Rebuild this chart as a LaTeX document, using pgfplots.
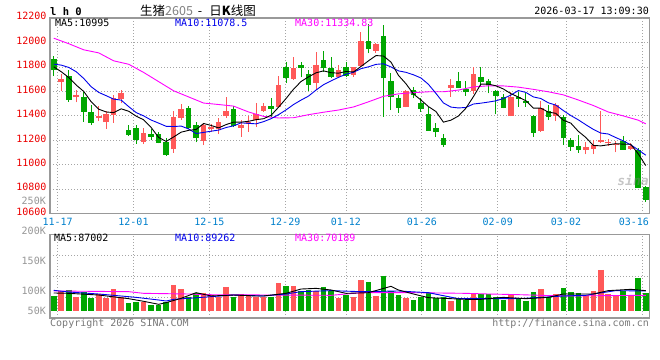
\documentclass[border=0pt]{standalone}
\usepackage{pgfplots}
\pgfplotsset{compat=1.18}
\usepackage{pgfplotstable}
\usepackage{fontspec}
\setmainfont{DejaVu Sans Mono}
\newfontfamily\cjk{Noto Sans CJK SC}
\newcommand\tf{\fontsize{10bp}{12bp}\selectfont}
\definecolor{upred}{RGB}{255,88,88}
\definecolor{dngreen}{RGB}{0,166,0}
\definecolor{ylabred}{RGB}{235,0,0}
\definecolor{xlabblue}{RGB}{0,128,204}
\definecolor{maten}{RGB}{0,0,235}
\definecolor{mathirty}{RGB}{255,0,255}
\definecolor{framegray}{RGB}{153,153,153}
\definecolor{gridgray}{RGB}{165,165,165}
\definecolor{volgray}{RGB}{150,150,150}
\definecolor{copygray}{RGB}{120,120,120}

% k open high low close volume(K)
\pgfplotstableread{
k o h l c v
1 11674 11739 11603 11701 100.0
3 11551 11608 11510 11567 90.0
6 11382 11478 11358 11401 95.0
7 11347 11442 11295 11415 88.9
8 11407 11570 11342 11543 103.3
9 11540 11611 11502 11586 90.6
12 11189 11303 11170 11263 82.2
16 11127 11440 11099 11388 110.0
17 11385 11497 11366 11456 103.3
20 11195 11339 11162 11325 97.2
21 11293 11334 11271 11312 93.9
22 11293 11380 11252 11352 90.6
23 11399 11551 11385 11440 106.7
25 11304 11366 11230 11325 95.0
26 11336 11399 11271 11347 93.3
27 11366 11508 11312 11415 90.6
28 11440 11502 11434 11480 90.6
30 11472 11725 11472 11652 113.3
32 11701 11878 11693 11793 108.3
35 11671 11924 11611 11815 100.0
38 11717 11815 11706 11771 88.9
40 11733 11801 11720 11796 90.0
41 11810 12082 11801 12011 118.3
43 11932 11992 11918 11986 91.7
47 11475 11610 11470 11603 88.3
53 11630 11701 11557 11652 83.3
56 11606 11796 11578 11742 96.1
61 11399 11592 11399 11551 95.0
65 11276 11521 11271 11461 103.3
67 11401 11502 11358 11488 95.0
71 11124 11184 11086 11143 93.3
72 11132 11203 11086 11162 100.0
73 11189 11440 11181 11200 135.0
74 11176 11211 11157 11189 95.0
75 11162 11195 11102 11170 93.3
77 11132 11176 11124 11157 93.3
}\upT

\pgfplotstableread{
k o h l c v
0 11869 11891 11725 11771 91.7
2 11722 11774 11516 11529 101.7
4 11554 11597 11352 11434 98.9
5 11429 11488 11325 11344 88.3
10 11284 11325 11238 11244 80.0
11 11298 11325 11173 11203 81.7
13 11252 11290 11203 11230 76.1
14 11252 11271 11176 11181 76.1
15 11186 11216 11072 11080 82.2
18 11464 11483 11293 11303 90.6
19 11325 11347 11184 11216 96.1
24 11456 11480 11306 11317 90.6
29 11480 11543 11393 11459 90.6
31 11801 11837 11671 11706 108.3
33 11815 11842 11714 11793 100.0
34 11739 11774 11603 11652 101.7
36 11856 11932 11761 11788 106.7
37 11788 11878 11706 11717 100.6
39 11796 11842 11714 11725 92.8
42 12011 12150 11910 11946 115.0
44 12052 12141 11393 11706 125.5
45 11684 11747 11448 11551 100.0
46 11548 11570 11426 11467 93.3
48 11611 11638 11543 11570 85.0
49 11508 11543 11434 11459 90.6
50 11415 11475 11279 11279 97.2
51 11301 11339 11230 11271 88.9
52 11222 11252 11148 11165 90.6
54 11684 11761 11630 11630 88.3
55 11616 11684 11565 11597 85.0
57 11720 11796 11646 11679 95.0
58 11687 11701 11584 11652 95.0
59 11603 11611 11412 11562 89.4
60 11551 11578 11461 11467 85.0
62 11557 11592 11475 11537 87.8
63 11524 11584 11475 11502 83.9
64 11399 11407 11230 11263 98.3
66 11440 11488 11366 11393 90.6
68 11393 11407 11162 11216 105.0
69 11203 11222 11116 11148 98.3
70 11154 11244 11097 11124 97.2
76 11197 11238 11124 11124 100.0
78 11124 11135 10808 10808 121.7
79 10816 10830 10699 10713 96.7
}\dnT

\pgfplotstableread{
k m5 m10
0 11801 11823
1 11761 11815
2 11714 11796
3 11652 11761
4 11600 11706
5 11515 11638
6 11455 11592
7 11432 11565
8 11427 11537
9 11458 11529
10 11438 11476
11 11398 11427
12 11368 11400
13 11305 11366
14 11224 11341
15 11191 11315
16 11228 11313
17 11267 11317
18 11282 11293
19 11289 11256
20 11338 11265
21 11322 11275
22 11302 11284
23 11329 11305
24 11349 11319
25 11349 11343
26 11356 11339
27 11369 11335
28 11377 11353
29 11405 11377
30 11471 11410
31 11542 11449
32 11618 11493
33 11681 11529
34 11719 11562
35 11752 11611
36 11768 11655
37 11753 11686
38 11749 11715
39 11763 11741
40 11759 11756
41 11804 11786
42 11850 11801
43 11893 11821
44 11889 11826
45 11840 11800
46 11731 11768
47 11663 11756
48 11579 11736
49 11530 11710
50 11476 11658
51 11436 11584
52 11349 11506
53 11365 11472
54 11399 11465
55 11463 11469
56 11557 11497
57 11660 11504
58 11660 11513
59 11646 11523
60 11620 11542
61 11582 11570
62 11554 11607
63 11524 11592
64 11464 11555
65 11463 11542
66 11431 11507
67 11421 11488
68 11364 11444
69 11341 11403
70 11274 11368
71 11224 11328
72 11159 11290
73 11155 11260
74 11164 11252
75 11173 11223
76 11169 11196
77 11168 11163
78 11090 11123
79 10994 11079
}\maT

\pgfplotstableread{
k m
0 12035
2 11990
4 11940
6 11915
8 11850
10 11822
12 11755
14 11680
16 11605
18 11555
20 11505
22 11493
24 11480
26 11432
28 11396
30 11383
32 11385
34 11410
36 11430
38 11448
40 11473
42 11515
44 11560
46 11580
48 11590
50 11597
52 11597
54 11611
56 11637
58 11646
60 11645
62 11635
64 11617
66 11597
68 11572
70 11530
72 11485
74 11432
76 11400
78 11365
79 11335
}\mathirtyT

\pgfplotstableread{
k m
0 96.7
2 96.1
6 93.3
10 87.2
12 82.8
14 77.8
15 80.6
17 87.8
19 97.2
21 91.7
24 93.3
27 91.7
28 91.7
31 96.1
33 103.3
35 104.4
37 101.7
39 96.1
42 97.2
45 107.8
46 101.7
48 95.0
50 88.9
55 86.1
57 86.1
60 89.4
63 87.2
66 89.4
68 95.0
71 95.0
72 95.0
74 100.6
77 102.8
79 100.6
}\vfiveT

\pgfplotstableread{
k m
0 101.1
2 98.3
6 95.0
11 89.4
14 85.0
15 83.3
16 86.1
18 87.8
21 90.6
24 93.3
28 91.7
31 95.0
33 98.9
37 100.6
41 98.9
46 100.0
50 97.2
54 87.2
62 87.2
65 89.4
68 91.7
71 92.8
72 95.0
75 100.6
79 100.0
}\vtenT

\pgfplotstableread{
k m
0 100.0
10 98.9
12 96.1
18 95.0
20 93.9
37 92.8
39 95.0
41 97.2
48 97.2
55 96.1
58 95.0
62 93.9
68 91.7
79 92.8
}\vthirtyT

\pgfplotsset{
  panel/.style={
    scale only axis, width=599.5bp, xmin=-0.5, xmax=79.5,
    axis line style={draw=framegray, line width=1.4bp},
    major tick length=0pt,
    scaled x ticks=false, scaled y ticks=false,
    grid=major,
    major grid style={draw=gridgray, line width=0.8bp, dash pattern=on 1bp off 2bp},
    xtick={0.513,10.639,20.766,30.892,38.994,49.120,59.247,68.361},
    tick label style={font=\tf},
  },
  errbase/.style={draw=none, mark=none, forget plot,
    mark options={draw=none, fill=none}},
  wick/.style={errbase,
    error bars/.cd, y dir=plus, y explicit, error mark=none,
    error bar style={line width=1bp, draw=#1, solid}},
  body/.style={errbase,
    error bars/.cd, y dir=plus, y explicit, error mark=none,
    error bar style={line width=5.6bp, draw=#1, solid}},
  vbar/.style={errbase,
    error bars/.cd, y dir=minus, y explicit, error mark=none,
    error bar style={line width=5.6bp, draw=#1, solid}},
}

\begin{document}
\begin{tikzpicture}
\path[use as bounding box] (0,0) rectangle (660bp,360bp);

% price panel
\begin{axis}[panel, at={(50bp,146.2bp)}, anchor=south west, height=195.8bp,
  ymin=10600, ymax=12200,
  ytick={10600,10800,11000,11200,11400,11600,11800,12000,12200},
  yticklabels={10600,10800,11000,11200,11400,11600,11800,12000,12200},
  yticklabel style={anchor=east, inner sep=0pt, xshift=-3.3bp, yshift=2bp, text=ylabred},
  xticklabels={11-17,12-01,12-15,12-29,01-12,01-26,02-09,03-02},
  xticklabel style={anchor=north, inner sep=0pt, yshift=-4bp, text=xlabblue},
  extra x ticks={78.487}, extra x tick labels={03-16},
  extra x tick style={grid=major, xticklabel style={xshift=-8bp}},
]
\addplot[wick=upred] table[x=k, y=l, y error plus expr=\thisrow{h}-\thisrow{l}] {\upT};
\addplot[wick=dngreen] table[x=k, y=l, y error plus expr=\thisrow{h}-\thisrow{l}] {\dnT};
\addplot[body=upred] table[x=k, y=o, y error plus expr=\thisrow{c}-\thisrow{o}] {\upT};
\addplot[body=dngreen] table[x=k, y=c, y error plus expr=\thisrow{o}-\thisrow{c}] {\dnT};
\addplot[mathirty, line width=0.9bp, mark=none] table[x=k, y=m] {\mathirtyT};
\addplot[maten, line width=0.9bp, mark=none] table[x=k, y=m10] {\maT};
\addplot[black, line width=0.9bp, mark=none] table[x=k, y=m5] {\maT};
\end{axis}

% volume panel
\begin{axis}[panel, at={(50bp,42bp)}, anchor=south west, height=83.7bp,
  ymin=55, ymax=194.5,
  ytick={89.8,124.7,159.7}, yticklabels={},
  xticklabels={},
  extra x ticks={78.487}, extra x tick labels={},
  extra x tick style={grid=major},
  extra y ticks={66.7,100,150}, extra y tick labels={50K,100K,150K},
  extra y tick style={grid=none, yticklabel style={anchor=east, inner sep=0pt, xshift=-4bp, text=volgray}},
]
\addplot[vbar=upred] table[x=k, y=v, y error minus expr=\thisrow{v}-67.2] {\upT};
\addplot[vbar=dngreen] table[x=k, y=v, y error minus expr=\thisrow{v}-67.2] {\dnT};
\addplot[mathirty, line width=0.9bp, mark=none] table[x=k, y=m] {\vthirtyT};
\addplot[maten, line width=0.9bp, mark=none] table[x=k, y=m] {\vtenT};
\addplot[black, line width=0.9bp, mark=none] table[x=k, y=m] {\vfiveT};
\end{axis}

% texts
\node[anchor=base west, inner sep=0pt] at (50bp,344bp) {\fontsize{10.5bp}{12bp}\selectfont\bfseries l h 0};
\node[anchor=base west, inner sep=0pt] at (140bp,344bp) {\cjk\fontsize{12.5bp}{14bp}\selectfont 生猪\textcolor{gray}{2605}\hspace{5bp}-\hspace{7bp}日\textbf{K}线图};
\node[anchor=base east, inner sep=0pt] at (649bp,345bp) {\tf 2026-03-17 13:09:30};
\node[anchor=base west, inner sep=0pt] at (55bp,333.3bp) {\tf MA5:10995};
\node[anchor=base west, inner sep=0pt, text=maten] at (175bp,333.3bp) {\tf MA10:11078.5};
\node[anchor=base west, inner sep=0pt, text=mathirty] at (295bp,333.3bp) {\tf MA30:11334.83};
\node[anchor=base west, inner sep=0pt] at (54bp,118.3bp) {\tf MA5:87002};
\node[anchor=base west, inner sep=0pt, text=maten] at (175bp,118.3bp) {\tf MA10:89262};
\node[anchor=base west, inner sep=0pt, text=mathirty] at (295bp,118.3bp) {\tf MA30:70189};
\node[anchor=east, inner sep=0pt, text=volgray] at (46bp,129bp) {\tf 200K};
\node[anchor=east, inner sep=0pt, text=volgray] at (46bp,159.2bp) {\tf 250K};
\node[anchor=base west, inner sep=0pt, text=copygray] at (50bp,34bp) {\tf Copyright 2026 SINA.COM};
\node[anchor=base east, inner sep=0pt, text=copygray] at (649bp,34bp) {\tf http://finance.sina.com.cn};
\node[anchor=center, inner sep=0pt, text=gray, opacity=0.45] at (633bp,180bp) {\fontsize{13bp}{14bp}\selectfont\bfseries\itshape sina};
\end{tikzpicture}
\end{document}
